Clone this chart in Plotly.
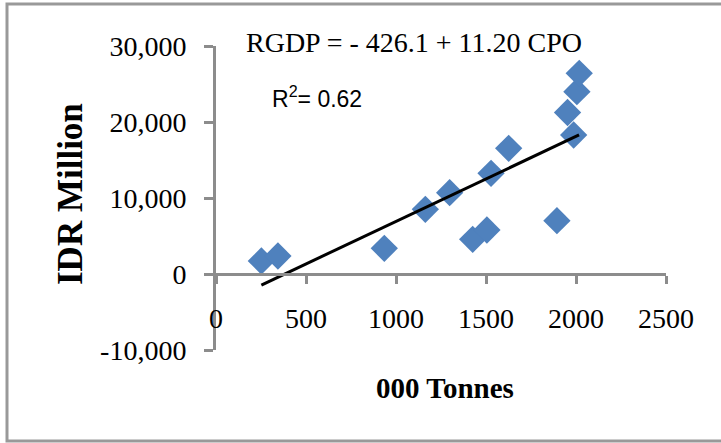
import plotly.graph_objects as go

# Data
cpo_x = [252, 344, 935, 1163, 1298, 1426, 1505, 1528, 1626, 1894, 1953, 1987, 2005, 2018]
rgdp_y = [1710, 2370, 3380, 8510, 10700, 4560, 5790, 13250, 16540, 7020, 21250, 18290, 23990, 26400]

trend_x = [252, 2017]
trend_y = [-1450, 18300]

x_tick_vals = [0, 500, 1000, 1500, 2000, 2500]
x_tick_labels = ["0", "500", "1000", "1500", "2000", "2500"]
y_tick_vals = [-10000, 0, 10000, 20000, 30000]
y_tick_labels = ["-10,000", "0", "10,000", "20,000", "30,000"]

equation_text = "RGDP = - 426.1 + 11.20 CPO"
r2_text = "R<sup>2</sup>= 0.62"
x_title = "000 Tonnes"
y_title = "IDR Million"

# Layout geometry (pixels)
W, H = 721, 443
L, R, T, B = 216, 55, 46, 93
pw, ph = W - L - R, H - T - B


def px_x(p):
    return (p - L) / pw


def px_y(p):
    return (H - B - p) / ph


serif = "Liberation Serif, Times New Roman, serif"
axis_gray = "#8c8c8c"

fig = go.Figure()
fig.add_trace(go.Scatter(
    x=cpo_x, y=rgdp_y, mode="markers",
    marker=dict(symbol="diamond", size=21, color="#4F81BD", line=dict(width=0)),
    showlegend=False,
))
fig.add_trace(go.Scatter(
    x=trend_x, y=trend_y, mode="lines",
    line=dict(color="black", width=3),
    showlegend=False,
))

fig.update_layout(
    width=W, height=H,
    margin=dict(l=L, r=R, t=T, b=B, pad=0),
    paper_bgcolor="white", plot_bgcolor="white",
    xaxis=dict(
        range=[0, 2500], tickvals=x_tick_vals, ticktext=x_tick_labels,
        anchor="free", position=0.25,
        showline=True, linecolor=axis_gray, linewidth=3,
        ticks="outside", ticklen=8, tickwidth=3, tickcolor=axis_gray,
        showgrid=False, zeroline=False,
        tickfont=dict(family=serif, size=28, color="black"),
        ticklabelstandoff=10,
    ),
    yaxis=dict(
        range=[-10000, 30000], tickvals=y_tick_vals, ticktext=y_tick_labels,
        showline=True, linecolor=axis_gray, linewidth=3,
        ticks="outside", ticklen=9, tickwidth=3, tickcolor=axis_gray,
        showgrid=False, zeroline=False,
        tickfont=dict(family=serif, size=28, color="black"),
        ticklabelstandoff=12,
    ),
    shapes=[dict(
        type="rect", xref="paper", yref="paper",
        x0=px_x(7), x1=px_x(740), y0=px_y(441), y1=px_y(4),
        line=dict(color="#999999", width=3), fillcolor="rgba(0,0,0,0)",
        layer="below",
    )],
    annotations=[
        dict(text=equation_text, xref="paper", yref="paper",
             x=px_x(414), y=px_y(42), showarrow=False,
             xanchor="center", yanchor="middle",
             font=dict(family=serif, size=28, color="black")),
        dict(text=r2_text, xref="paper", yref="paper",
             x=px_x(317), y=px_y(97), showarrow=False,
             xanchor="center", yanchor="middle",
             font=dict(family="Liberation Sans, Arial, sans-serif", size=23, color="black")),
        dict(text="<b>" + x_title + "</b>", xref="paper", yref="paper",
             x=px_x(445), y=px_y(388), showarrow=False,
             xanchor="center", yanchor="middle",
             font=dict(family=serif, size=29, color="black")),
        dict(text="<b>" + y_title + "</b>", xref="paper", yref="paper",
             x=px_x(70), y=px_y(194), showarrow=False, textangle=-90,
             xanchor="center", yanchor="middle",
             font=dict(family=serif, size=35, color="black")),
    ],
)

fig.write_html(
    "out.html",
    config={"displayModeBar": False, "staticPlot": True},
    post_script="document.body.style.margin='0';document.body.style.overflow='hidden';",
)
